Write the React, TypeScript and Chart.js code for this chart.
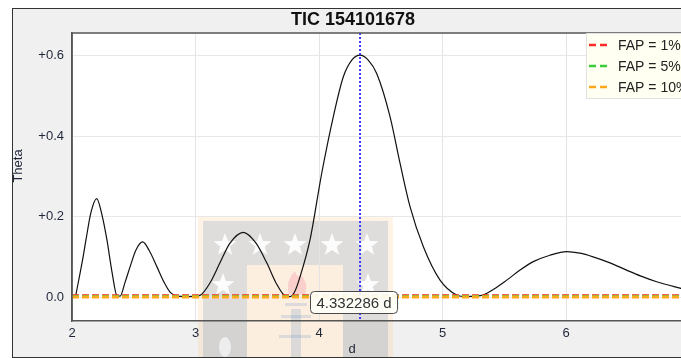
import { useEffect, useRef } from "react";
import { Chart, registerables } from "chart.js";

Chart.register(...registerables);

// Periodogram of TIC 154101678: trial period (days) vs. Theta
const periodDays = [
  2.03, 2.09, 2.113, 2.154, 2.2, 2.243, 2.283, 2.324, 2.364, 2.389,
  2.43, 2.47, 2.518, 2.572, 2.623, 2.688, 2.745, 2.794, 2.85, 2.92,
  2.99, 3.036, 3.117, 3.198, 3.279, 3.387, 3.49, 3.577, 3.652, 3.725,
  3.765, 3.806, 3.846, 3.927, 4.022, 4.116, 4.197, 4.267, 4.332, 4.397,
  4.467, 4.575, 4.656, 4.737, 4.845, 4.98, 5.115, 5.196, 5.263, 5.328,
  5.417, 5.52, 5.628, 5.735, 5.87, 6.006, 6.113, 6.219, 6.356, 6.49,
  6.607, 6.734, 6.923, 7.0,
];
const thetaValues = [
  0.003, 0.1, 0.142, 0.211, 0.245, 0.204, 0.142, 0.062, 0.003, 0.002,
  0.037, 0.075, 0.117, 0.137, 0.117, 0.075, 0.037, 0.012, 0.002, 0.001,
  0.002, 0.004, 0.035, 0.085, 0.134, 0.161, 0.134, 0.085, 0.035, 0.003,
  0.001, 0.015, 0.05, 0.142, 0.308, 0.449, 0.548, 0.59, 0.602, 0.59,
  0.556, 0.449, 0.333, 0.225, 0.125, 0.042, 0.005, 0.001, 0.002, 0.005,
  0.02, 0.042, 0.067, 0.088, 0.104, 0.113, 0.109, 0.1, 0.085, 0.067,
  0.052, 0.038, 0.022, 0.016,
];

// False-alarm-probability levels
const fapLabels = ["FAP = 1%", "FAP = 5%", "FAP = 10%"];
const fapLevels = [0.003, 0.0015, 0.0];
const fapColors = ["#ff2a2a", "#3ccc3c", "#ffa81e"];

const bestPeriod = 4.332286;
const bestPeriodLabel = "4.332286 d";

const xTickValues = [2, 3, 4, 5, 6];
const yTickValues = [0, 0.2, 0.4, 0.6];
const yTickLabels = ["0.0", "+0.2", "+0.4", "+0.6"];

const chartTitle = "TIC 154101678";
const xAxisTitle = "d";
const yAxisTitle = "Theta";

const FONT = '"Liberation Sans", Arial, sans-serif';
const TEXT = "#1f2638";

function star(ctx: CanvasRenderingContext2D, cx: number, cy: number, r: number) {
  ctx.beginPath();
  for (let i = 0; i < 10; i++) {
    const rad = i % 2 === 0 ? r : r * 0.42;
    const a = -Math.PI / 2 + (i * Math.PI) / 5;
    const px = cx + rad * Math.cos(a);
    const py = cy + rad * Math.sin(a);
    if (i === 0) ctx.moveTo(px, py);
    else ctx.lineTo(px, py);
  }
  ctx.closePath();
  ctx.fill();
}

// Background, plot panel and faint crest watermark
const backdropPlugin = {
  id: "backdrop",
  beforeDraw(chart: any) {
    const { ctx, chartArea: a, width, height } = chart;
    ctx.save();
    ctx.fillStyle = "#f0f0f0";
    ctx.fillRect(0, 0, width, height);
    ctx.fillStyle = "#ffffff";
    ctx.fillRect(a.left, a.top, a.right - a.left, a.bottom - a.top);

    // crest
    ctx.fillStyle = "rgba(250,200,130,0.22)";
    ctx.fillRect(185, 208, 195, 150);
    ctx.fillStyle = "rgba(80,120,185,0.18)";
    ctx.fillRect(190, 212, 185, 150);
    ctx.fillStyle = "rgba(255,241,224,0.9)";
    ctx.fillRect(234, 256, 96, 110);
    ctx.fillStyle = "rgba(255,255,255,0.9)";
    [212, 247, 282, 319, 354].forEach((sx) => star(ctx, sx, 236, 12));
    star(ctx, 210, 276, 12);
    star(ctx, 355, 276, 12);
    // flame
    ctx.fillStyle = "rgba(245,150,165,0.35)";
    ctx.beginPath();
    ctx.moveTo(276, 285);
    ctx.quadraticCurveTo(272, 272, 282, 262);
    ctx.quadraticCurveTo(284, 270, 288, 266);
    ctx.quadraticCurveTo(296, 274, 292, 285);
    ctx.closePath();
    ctx.fill();
    // torch
    ctx.fillStyle = "rgba(110,145,195,0.22)";
    ctx.fillRect(272, 294, 22, 3);
    ctx.fillRect(268, 306, 30, 3);
    ctx.fillRect(266, 326, 32, 3);
    ctx.fillRect(278, 300, 10, 48);
    ctx.fillStyle = "rgba(255,255,255,0.6)";
    ctx.beginPath();
    ctx.ellipse(212, 338, 6, 10, 0, 0, Math.PI * 2);
    ctx.fill();
    ctx.restore();
  },
};

// Marker for the best period with its value box
const bestPeriodPlugin = {
  id: "bestPeriod",
  afterDatasetsDraw(chart: any) {
    const { ctx, chartArea: a, scales } = chart;
    const x = scales.x.getPixelForValue(bestPeriod);
    ctx.save();
    ctx.strokeStyle = "#3a3aff";
    ctx.lineWidth = 2;
    ctx.setLineDash([2, 2]);
    ctx.beginPath();
    ctx.moveTo(x, a.top);
    ctx.lineTo(x, a.bottom);
    ctx.stroke();
    ctx.setLineDash([]);

    ctx.font = `15px ${FONT}`;
    const w = ctx.measureText(bestPeriodLabel).width + 12;
    const h = 22;
    const bx = Math.round(x - 7 - w / 2) + 0.5;
    const by = scales.y.getPixelForValue(0) - 6 + 0.5;
    ctx.beginPath();
    ctx.roundRect(bx, by, w, h, 4);
    ctx.fillStyle = "rgba(255,255,248,0.92)";
    ctx.fill();
    ctx.strokeStyle = "#4a4a4a";
    ctx.lineWidth = 1;
    ctx.stroke();
    ctx.fillStyle = "#333";
    ctx.textAlign = "center";
    ctx.textBaseline = "middle";
    ctx.fillText(bestPeriodLabel, bx + w / 2, by + h / 2 + 1);
    ctx.restore();
  },
};

// Plot frame, axis titles and the FAP legend
const overlayPlugin = {
  id: "overlay",
  afterDraw(chart: any) {
    const { ctx, chartArea: a } = chart;
    ctx.save();
    ctx.strokeStyle = "#555";
    ctx.lineWidth = 1.5;
    ctx.beginPath();
    ctx.moveTo(a.left, a.bottom);
    ctx.lineTo(a.left, a.top);
    ctx.lineTo(chart.width + 2, a.top);
    ctx.stroke();

    ctx.fillStyle = TEXT;
    ctx.font = `13px ${FONT}`;
    ctx.textAlign = "center";
    ctx.textBaseline = "middle";
    ctx.fillText(xAxisTitle, 339, 340);
    ctx.save();
    ctx.translate(5.5, 157);
    ctx.rotate(-Math.PI / 2);
    ctx.fillText(yAxisTitle, 0, 0);
    ctx.restore();

    // legend
    const lx = 573.5;
    const ly = a.top + 0.5;
    ctx.fillStyle = "#fffff2";
    ctx.fillRect(lx, ly, 120, 65);
    ctx.strokeStyle = "#e2e2e2";
    ctx.lineWidth = 1;
    ctx.strokeRect(lx, ly, 120, 65);
    const items = chart.data.datasets.slice(1);
    items.forEach((ds: any, i: number) => {
      const cy = a.top + 12 + i * 21;
      ctx.strokeStyle = ds.borderColor;
      ctx.lineWidth = 2.5;
      ctx.beginPath();
      ctx.moveTo(576, cy);
      ctx.lineTo(583, cy);
      ctx.moveTo(587, cy);
      ctx.lineTo(594, cy);
      ctx.stroke();
      ctx.fillStyle = "#222";
      ctx.font = `14px ${FONT}`;
      ctx.textAlign = "left";
      ctx.textBaseline = "middle";
      ctx.fillText(ds.label, 605, cy + 1);
    });
    ctx.restore();
  },
};

export default function App() {
  const canvasRef = useRef<HTMLCanvasElement | null>(null);

  useEffect(() => {
    const canvas = canvasRef.current;
    if (!canvas) return;

    const curve = periodDays.map((p, i) => ({ x: p, y: thetaValues[i] }));
    const xMin = 2;
    const xMax = 6.931;

    // lower order is drawn on top: 10% line over 5% over 1%
    const fapOrder = [2, 1, 0];
    const fapSets = fapLabels.map((label, i) => ({
      label,
      data: [
        { x: xMin, y: fapLevels[i] },
        { x: 7.2, y: fapLevels[i] },
      ],
      borderColor: fapColors[i],
      borderWidth: 3,
      borderDash: [7, 3],
      pointRadius: 0,
      fill: false,
      order: fapOrder[i],
    }));

    const chart = new Chart(canvas, {
      type: "line",
      data: {
        datasets: [
          {
            label: yAxisTitle,
            data: curve,
            borderColor: "#111",
            borderWidth: 1.2,
            pointRadius: 0,
            cubicInterpolationMode: "monotone",
            fill: false,
            order: 3,
          },
          ...fapSets,
        ],
      },
      options: {
        responsive: false,
        animation: false,
        devicePixelRatio: 1,
        layout: { padding: { left: 12, right: 0, top: 0, bottom: 0 } },
        plugins: {
          legend: { display: false },
          tooltip: { enabled: false },
          title: {
            display: true,
            text: chartTitle,
            color: "#111",
            font: { family: FONT, size: 18, weight: "bold" },
            padding: { top: 0, bottom: 2.4 },
          },
        },
        scales: {
          x: {
            type: "linear",
            min: xMin,
            max: xMax,
            afterBuildTicks: (s: any) => {
              s.ticks = xTickValues.map((v) => ({ value: v }));
            },
            afterFit: (s: any) => {
              s.height = 36;
            },
            ticks: {
              color: TEXT,
              font: { family: FONT, size: 13 },
              padding: 5,
              maxRotation: 0,
              callback: (v: any) => String(v),
            },
            grid: { color: "#e4e4e4", drawTicks: false },
            border: { display: true, color: "#555", width: 1.5 },
          },
          y: {
            type: "linear",
            min: -0.0597,
            max: 0.657,
            afterBuildTicks: (s: any) => {
              s.ticks = yTickValues.map((v) => ({ value: v }));
            },
            afterFit: (s: any) => {
              s.width = 47;
            },
            ticks: {
              color: TEXT,
              font: { family: FONT, size: 13 },
              padding: 8,
              callback: (v: any) => {
                const idx = yTickValues.findIndex((t) => Math.abs(t - v) < 1e-9);
                return idx >= 0 ? yTickLabels[idx] : "";
              },
            },
            grid: { color: "#e8e8e8", drawTicks: false },
            border: { display: true, color: "#555", width: 1.5 },
          },
        },
      },
      plugins: [backdropPlugin, bestPeriodPlugin, overlayPlugin],
    } as any);

    return () => chart.destroy();
  }, []);

  return (
    <div
      style={{
        position: "fixed",
        left: 0,
        top: 0,
        width: 681,
        height: 358,
        overflow: "hidden",
        background: "#ffffff",
      }}
    >
      <div
        style={{
          position: "absolute",
          left: 12,
          top: 8,
          width: 700,
          height: 348,
          border: "1px solid #333",
          background: "#f0f0f0",
        }}
      >
        <canvas
          ref={canvasRef}
          width={668}
          height={348}
          style={{ display: "block", width: 668, height: 348 }}
        />
      </div>
    </div>
  );
}
